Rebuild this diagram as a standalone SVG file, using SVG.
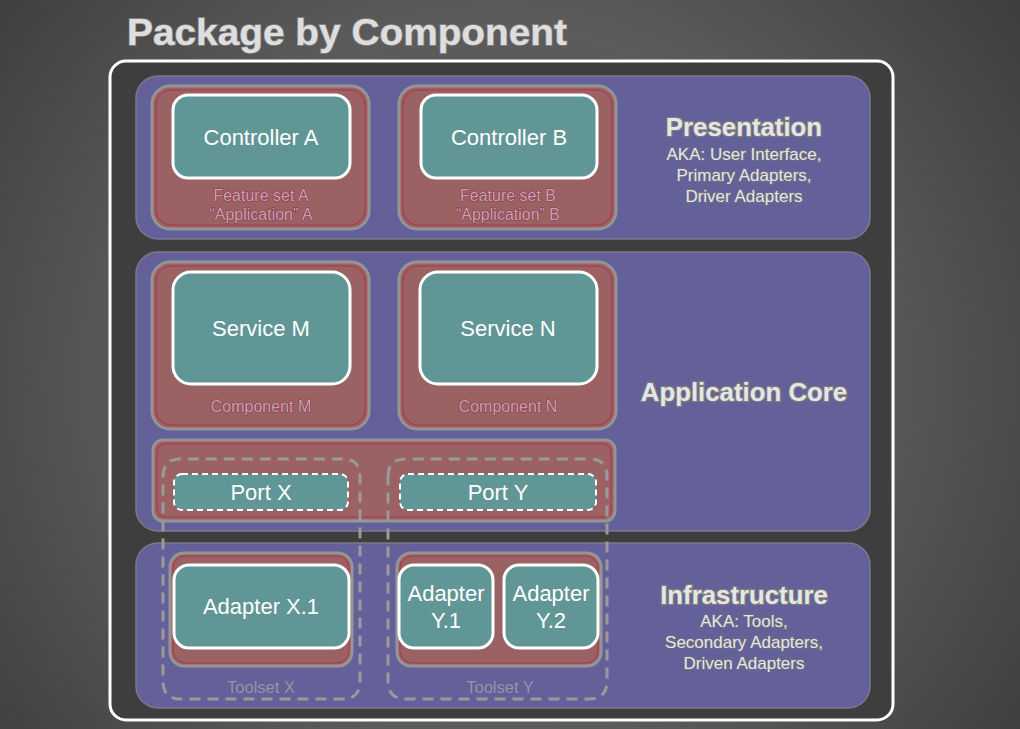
<svg xmlns="http://www.w3.org/2000/svg" width="1020" height="729" viewBox="0 0 1020 729">
  <defs>
    <radialGradient id="bg" cx="500" cy="380" r="640" gradientUnits="userSpaceOnUse">
      <stop offset="0" stop-color="#5a5a5a"/>
      <stop offset="0.45" stop-color="#575757"/>
      <stop offset="0.55" stop-color="#5c5c5c"/>
      <stop offset="0.7" stop-color="#525252"/>
      <stop offset="0.82" stop-color="#4a4a4a"/>
      <stop offset="1" stop-color="#3e3e3e"/>
    </radialGradient>
  </defs>
  <style>
    .layer { fill: #63609a; stroke: #7a7a8a; stroke-width: 1.5; }
    .box { fill: #9a6262; stroke: #959595; stroke-width: 3; }
    .boxin { fill: none; stroke: #b3304e; stroke-width: 1; }
    .node { fill: #619696; stroke: #ffffff; stroke-width: 3; }
    .port { fill: #619696; stroke: #ffffff; stroke-width: 2; stroke-dasharray: 6 4; }
    .toolset { fill: none; stroke: #9a9a9a; stroke-width: 3; stroke-dasharray: 11 7; }
    .lbl { font-family: "Liberation Sans", Arial, sans-serif; font-size: 22px; fill: #ffffff; text-anchor: middle; }
    .sub { font-family: "Liberation Sans", Arial, sans-serif; font-size: 16px; fill: #b9a9ab; stroke: #a02a52; stroke-width: 1.1; paint-order: stroke; text-anchor: middle; }
    .tool { font-family: "Liberation Sans", Arial, sans-serif; font-size: 16.5px; fill: #9494a4; text-anchor: middle; }
    .head { font-family: "Liberation Sans", Arial, sans-serif; font-size: 25.8px; font-weight: bold; fill: #e6e6e6; stroke: #7d7d7d; stroke-width: 2.5; paint-order: stroke; text-anchor: middle; }
    .aka { font-family: "Liberation Sans", Arial, sans-serif; font-size: 17px; fill: #e6e6e6; stroke: #6e6e80; stroke-width: 2; paint-order: stroke; text-anchor: middle; }
    .title { font-family: "Liberation Sans", Arial, sans-serif; font-size: 37px; font-weight: bold; fill: #dedede; stroke: #8a8a8a; stroke-width: 1.5; paint-order: stroke; }
  </style>
  <rect x="0" y="0" width="1020" height="729" fill="url(#bg)"/>
  <text class="title" x="127" y="45" textLength="440" lengthAdjust="spacingAndGlyphs">Package by Component</text>

  <rect id="frame" x="110" y="61" width="783" height="659" rx="16" fill="#3e3e3e" stroke="#ffffff" stroke-width="3"/>

  <g id="presentation">
    <rect class="layer" x="136" y="76" width="734" height="163" rx="22"/>
    <text class="head" x="744" y="136">Presentation</text>
    <text class="aka" x="744" y="160">AKA: User Interface,</text>
    <text class="aka" x="744" y="181">Primary Adapters,</text>
    <text class="aka" x="744" y="202">Driver Adapters</text>
  </g>
  <g id="application-core">
    <rect class="layer" x="136" y="252" width="734" height="279" rx="22"/>
    <text class="head" x="744" y="401">Application Core</text>
  </g>
  <g id="infrastructure">
    <rect class="layer" x="136" y="543" width="734" height="165" rx="22"/>
    <text class="head" x="744" y="604">Infrastructure</text>
    <text class="aka" x="744" y="627">AKA: Tools,</text>
    <text class="aka" x="744" y="648">Secondary Adapters,</text>
    <text class="aka" x="744" y="669">Driven Adapters</text>
  </g>

  <g id="feature-set-a">
    <rect class="box" x="152" y="86" width="217" height="143" rx="18"/>
    <rect class="boxin" x="156" y="90" width="209" height="135" rx="15"/>
    <g id="controller-a">
      <rect class="node" x="173" y="95" width="177" height="83" rx="15"/>
      <text class="lbl" x="261" y="145">Controller A</text>
    </g>
    <text class="sub" x="261" y="201">Feature set A</text>
    <text class="sub" x="261" y="220">“Application” A</text>
  </g>
  <g id="feature-set-b">
    <rect class="box" x="399" y="86" width="217" height="143" rx="18"/>
    <rect class="boxin" x="403" y="90" width="209" height="135" rx="15"/>
    <g id="controller-b">
      <rect class="node" x="421" y="95" width="176" height="83" rx="15"/>
      <text class="lbl" x="509" y="145">Controller B</text>
    </g>
    <text class="sub" x="508" y="201">Feature set B</text>
    <text class="sub" x="508" y="220">“Application” B</text>
  </g>

  <g id="component-m">
    <rect class="box" x="152" y="262" width="217" height="167" rx="18"/>
    <rect class="boxin" x="156" y="266" width="209" height="159" rx="15"/>
    <g id="service-m">
      <rect class="node" x="173" y="272" width="177" height="112" rx="18"/>
      <text class="lbl" x="261" y="336">Service M</text>
    </g>
    <text class="sub" x="261" y="412">Component M</text>
  </g>
  <g id="component-n">
    <rect class="box" x="399" y="262" width="217" height="167" rx="18"/>
    <rect class="boxin" x="403" y="266" width="209" height="159" rx="15"/>
    <g id="service-n">
      <rect class="node" x="420" y="272" width="177" height="112" rx="18"/>
      <text class="lbl" x="508" y="336">Service N</text>
    </g>
    <text class="sub" x="508" y="412">Component N</text>
  </g>

  <g id="ports">
    <rect class="box" x="153" y="440" width="462" height="81" rx="10"/>
    <rect class="boxin" x="157" y="444" width="454" height="73" rx="8"/>
    <g id="port-x">
      <rect class="port" x="174" y="474" width="174" height="36" rx="8"/>
      <text class="lbl" x="261" y="500">Port X</text>
    </g>
    <g id="port-y">
      <rect class="port" x="400" y="474" width="196" height="36" rx="8"/>
      <text class="lbl" x="498" y="500">Port Y</text>
    </g>
  </g>

  <g id="toolset-x">
    <rect class="box" x="170" y="553" width="182" height="113" rx="14"/>
    <rect class="boxin" x="173" y="556" width="176" height="107" rx="12"/>
    <g id="adapter-x1">
      <rect class="node" x="174" y="565" width="175" height="83" rx="15"/>
      <text class="lbl" x="261" y="614">Adapter X.1</text>
    </g>
    <text class="tool" x="261" y="693">Toolset X</text>
  </g>
  <g id="toolset-y">
    <rect class="box" x="397" y="553" width="204" height="113" rx="14"/>
    <rect class="boxin" x="400" y="556" width="198" height="107" rx="12"/>
    <g id="adapter-y1">
      <rect class="node" x="399" y="565" width="94" height="83" rx="15"/>
      <text class="lbl" x="446" y="601">Adapter</text>
      <text class="lbl" x="446" y="628">Y.1</text>
    </g>
    <g id="adapter-y2">
      <rect class="node" x="504" y="565" width="94" height="83" rx="15"/>
      <text class="lbl" x="551" y="601">Adapter</text>
      <text class="lbl" x="551" y="628">Y.2</text>
    </g>
    <text class="tool" x="500" y="693">Toolset Y</text>
  </g>

  <g id="connectors">
    <path class="toolset" d="M163 477 Q163 459 180 459 L343 459 Q360 459 360 477 L360 681 Q360 699 342 699 L181 699 Q163 699 163 681 Z"/>
    <path class="toolset" d="M388 477 Q388 459 405 459 L590 459 Q607 459 607 477 L607 681 Q607 699 589 699 L406 699 Q388 699 388 681 Z"/>
  </g>
</svg>
